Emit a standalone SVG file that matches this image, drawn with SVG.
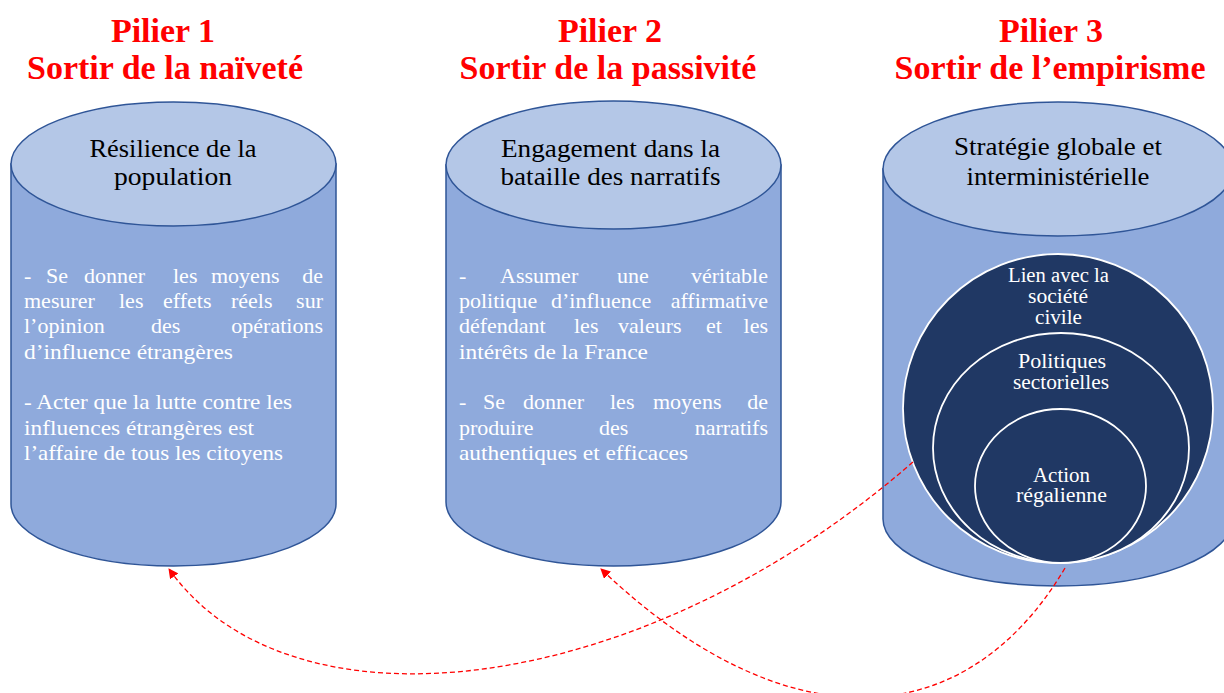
<svg xmlns="http://www.w3.org/2000/svg" width="1224" height="693" viewBox="0 0 1224 693">
<style>
.title{font-family:"Liberation Serif","Times New Roman",serif;font-weight:bold;font-size:34px;fill:#FF0000;text-anchor:middle}
.head{font-family:"Liberation Serif","Times New Roman",serif;font-size:25px;fill:#000000;text-anchor:middle}
.body{font-family:"Liberation Serif","Times New Roman",serif;font-size:22px;fill:#FFFFFF}
.circ{font-family:"Liberation Serif","Times New Roman",serif;font-size:20px;fill:#FFFFFF;text-anchor:middle}
.cylbody{fill:#8FAADC;stroke:#2F5597;stroke-width:1.5}
.cyltop{fill:#B4C7E7;stroke:#2F5597;stroke-width:1.5}
.ring{fill:#203864;stroke:#FFFFFF;stroke-width:1.8}
.conn{fill:none;stroke:#FF0000;stroke-width:1.3;stroke-dasharray:5 3}
.e{text-anchor:end}
</style>
<defs>
<marker id="arr" viewBox="0 0 10 10" refX="9" refY="5" markerWidth="10" markerHeight="10" markerUnits="userSpaceOnUse" orient="auto">
<path d="M0,0 L10,5 L0,10 z" fill="#FF0000"/>
</marker>
</defs>
<rect width="1224" height="693" fill="#FFFFFF"/>

<g id="titles">
<text class="title" x="163" y="42">Pilier 1</text>
<text class="title" x="165" y="79">Sortir de la naïveté</text>
<text class="title" x="610" y="42">Pilier 2</text>
<text class="title" x="608" y="79">Sortir de la passivité</text>
<text class="title" x="1051" y="42">Pilier 3</text>
<text class="title" x="1050" y="79">Sortir de l’empirisme</text>
</g>

<g id="pilier1">
<path class="cylbody" d="M11,164 V504 A162.5,62 0 0 0 336,504 V164 Z"/>
<ellipse class="cyltop" cx="173.5" cy="164" rx="162.5" ry="62"/>
<text class="head" x="173" y="157" textLength="167" lengthAdjust="spacingAndGlyphs">Résilience de la</text>
<text class="head" x="173" y="185" textLength="118" lengthAdjust="spacingAndGlyphs">population</text>
<text class="body" y="283"><tspan x="24">-</tspan><tspan x="46">Se</tspan><tspan x="84">donner</tspan><tspan x="173">les</tspan><tspan x="211">moyens</tspan><tspan x="323" class="e">de</tspan></text>
<text class="body" y="308"><tspan x="24">mesurer</tspan><tspan x="119">les</tspan><tspan x="163">effets</tspan><tspan x="231">réels</tspan><tspan x="323" class="e">sur</tspan></text>
<text class="body" y="333"><tspan x="24">l’opinion</tspan><tspan x="151">des</tspan><tspan x="323" class="e">opérations</tspan></text>
<text class="body" x="24" y="359" textLength="209" lengthAdjust="spacingAndGlyphs">d’influence étrangères</text>
<text class="body" x="24" y="409" textLength="268" lengthAdjust="spacingAndGlyphs">- Acter que la lutte contre les</text>
<text class="body" x="24" y="435" textLength="230" lengthAdjust="spacingAndGlyphs">influences étrangères est</text>
<text class="body" x="24" y="460" textLength="259" lengthAdjust="spacingAndGlyphs">l’affaire de tous les citoyens</text>
</g>

<g id="pilier2">
<path class="cylbody" d="M446,165 V502 A167.5,64 0 0 0 781,502 V165 Z"/>
<ellipse class="cyltop" cx="613.5" cy="165" rx="167.5" ry="64"/>
<text class="head" x="610.5" y="157" textLength="219" lengthAdjust="spacingAndGlyphs">Engagement dans la</text>
<text class="head" x="610.5" y="185" textLength="220" lengthAdjust="spacingAndGlyphs">bataille des narratifs</text>
<text class="body" y="283"><tspan x="459">-</tspan><tspan x="500">Assumer</tspan><tspan x="617">une</tspan><tspan x="768" class="e">véritable</tspan></text>
<text class="body" y="308"><tspan x="459">politique</tspan><tspan x="551">d’influence</tspan><tspan x="768" class="e">affirmative</tspan></text>
<text class="body" y="333"><tspan x="459">défendant</tspan><tspan x="574">les</tspan><tspan x="618">valeurs</tspan><tspan x="706">et</tspan><tspan x="768" class="e">les</tspan></text>
<text class="body" x="459" y="359" textLength="189" lengthAdjust="spacingAndGlyphs">intérêts de la France</text>
<text class="body" y="409"><tspan x="459">-</tspan><tspan x="483">Se</tspan><tspan x="523">donner</tspan><tspan x="610">les</tspan><tspan x="653">moyens</tspan><tspan x="768" class="e">de</tspan></text>
<text class="body" y="435"><tspan x="459">produire</tspan><tspan x="599">des</tspan><tspan x="768" class="e">narratifs</tspan></text>
<text class="body" x="459" y="460" textLength="229" lengthAdjust="spacingAndGlyphs">authentiques et efficaces</text>
</g>

<g id="pilier3">
<path class="cylbody" d="M883,169 V519 A175,67 0 0 0 1233,519 V169 Z"/>
<ellipse class="cyltop" cx="1058" cy="169" rx="175" ry="67"/>
<text class="head" x="1058" y="155" textLength="208" lengthAdjust="spacingAndGlyphs">Stratégie globale et</text>
<text class="head" x="1058" y="185" textLength="183" lengthAdjust="spacingAndGlyphs">interministérielle</text>
</g>

<g id="lien-societe-civile">
<ellipse class="ring" cx="1058" cy="408.5" rx="155" ry="154.5"/>
<text class="circ" x="1058.5" y="282" textLength="101" lengthAdjust="spacingAndGlyphs">Lien avec la</text>
<text class="circ" x="1058" y="303" textLength="60" lengthAdjust="spacingAndGlyphs">société</text>
<text class="circ" x="1058.5" y="324" textLength="47" lengthAdjust="spacingAndGlyphs">civile</text>
</g>

<g id="politiques-sectorielles">
<ellipse class="ring" cx="1061" cy="448" rx="128" ry="115"/>
<text class="circ" x="1062" y="368" textLength="88" lengthAdjust="spacingAndGlyphs">Politiques</text>
<text class="circ" x="1061" y="389" textLength="96" lengthAdjust="spacingAndGlyphs">sectorielles</text>
</g>

<g id="action-regalienne">
<ellipse class="ring" cx="1060.5" cy="486" rx="85.5" ry="77"/>
<text class="circ" x="1061.5" y="482" textLength="57" lengthAdjust="spacingAndGlyphs">Action</text>
<text class="circ" x="1061.5" y="502" textLength="91" lengthAdjust="spacingAndGlyphs">régalienne</text>
</g>

<g id="connectors">
<path class="conn" marker-end="url(#arr)" d="M913,462 C640,700 290,740 169,569"/>
<path class="conn" marker-end="url(#arr)" d="M1065,568 C963,740 781,741 601,569"/>
</g>
</svg>
